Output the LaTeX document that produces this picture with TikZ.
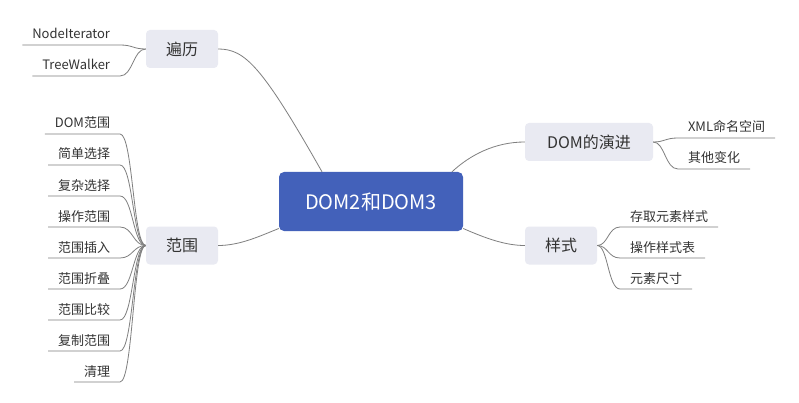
\documentclass[tikz,border=0pt]{standalone}
\usepackage{fontspec}
\setmainfont{Noto Sans CJK SC}
\definecolor{txt}{HTML}{333333}
\definecolor{ln}{HTML}{7F7F7F}
\definecolor{boxfill}{HTML}{E9EAF2}
\definecolor{mainblue}{HTML}{4361BA}
\tikzset{
 topic/.style={fill=boxfill, rounded corners=4pt, inner sep=0pt, text=txt, font=\fontsize{16}{16}\selectfont, minimum height=38pt},
 central/.style={fill=mainblue, rounded corners=5pt, inner sep=0pt, text=white, font=\fontsize{20}{20}\selectfont, minimum width=184pt, minimum height=59pt},
 leaf/.style={inner xsep=10pt, inner ysep=0pt, text height=10pt, text depth=6pt, text=txt, font=\fontsize{13}{13}\selectfont, outer sep=0pt},
 conn/.style={draw=ln, line width=0.8pt},
}
\begin{document}
\begin{tikzpicture}[x=1pt,y=-1pt]
\useasboundingbox (0,0) rectangle (799,403);
\fill[white] (0,0) rectangle (799,403);
% main topics
\node[central] (c) at (371,201.5) {DOM2和DOM3};
\node[topic, minimum width=72pt] (bl) at (182,49) {遍历};
\node[topic, minimum width=72pt] (fw) at (182,245.5) {范围};
\node[topic, minimum width=128pt] (yj) at (589,142) {DOM的演进};
\node[topic, minimum width=72pt] (ys) at (561,245.5) {样式};
% main connectors
\draw[conn] (bl.east) .. controls (245,49) and (262,66) .. ([xshift=-49pt]c.north);
\draw[conn] (fw.east) .. controls (240,245.5) and (260,236) .. ([yshift=-27pt]c.west);
\draw[conn] ([xshift=81pt]c.north) .. controls (470,155) and (495,142) .. (yj.west);
\draw[conn] ([yshift=-27pt]c.east) .. controls (485,238) and (505,245.5) .. (ys.west);
% traversal leaves
\node[leaf, anchor=south east] (n1) at (120,45) {NodeIterator};
\node[leaf, anchor=south east] (n2) at (120,76) {TreeWalker};
\draw[conn] (bl.west) .. controls (133,49) and (133,45) .. (n1.south east) -- (n1.south west);
\draw[conn] (bl.west) .. controls (133,49) and (133,76) .. (n2.south east) -- (n2.south west);
% range leaves
\foreach \t [count=\i] in {DOM范围,简单选择,复杂选择,操作范围,范围插入,范围折叠,范围比较,复制范围,清理}{
  \node[leaf, anchor=south east] (r\i) at (120,{103+31*\i}) {\t};
  \draw[conn] (fw.west) .. controls (133,245.5) and (133,{103+31*\i}) .. (r\i.south east) -- (r\i.south west);
}
% evolution leaves
\node[leaf, anchor=south west] (x1) at (678,138) {XML命名空间};
\node[leaf, anchor=south west] (x2) at (678,169) {其他变化};
\draw[conn] (yj.east) .. controls (665,142) and (665,138) .. (x1.south west) -- (x1.south east);
\draw[conn] (yj.east) .. controls (665,142) and (665,169) .. (x2.south west) -- (x2.south east);
% style leaves
\node[leaf, anchor=south west] (s1) at (620,227) {存取元素样式};
\node[leaf, anchor=south west] (s2) at (620,258) {操作样式表};
\node[leaf, anchor=south west] (s3) at (620,289) {元素尺寸};
\draw[conn] (ys.east) .. controls (608,245.5) and (608,227) .. (s1.south west) -- (s1.south east);
\draw[conn] (ys.east) .. controls (608,245.5) and (608,258) .. (s2.south west) -- (s2.south east);
\draw[conn] (ys.east) .. controls (608,245.5) and (608,289) .. (s3.south west) -- (s3.south east);
\end{tikzpicture}
\end{document}
